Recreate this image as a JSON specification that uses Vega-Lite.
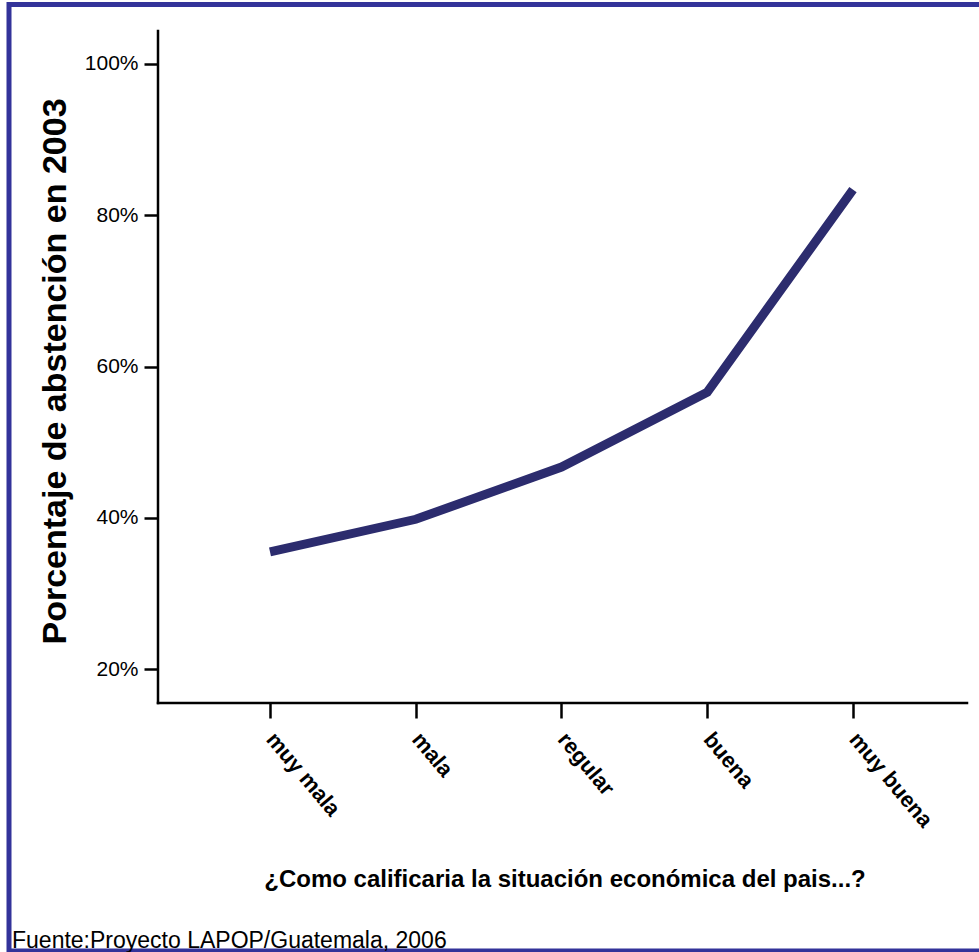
{
  "$schema": "https://vega.github.io/schema/vega-lite/v6.json",
  "width": 970,
  "height": 944,
  "autosize": {"type": "none"},
  "padding": {"left": 9, "top": 5, "right": 0, "bottom": 3},
  "background": "white",
  "config": {"view": {"stroke": null}, "font": "Liberation Sans"},
  "datasets": {
    "abstencion": [
      {"nivel": 1, "situacion": "muy mala", "porcentaje": 0.355},
      {"nivel": 2, "situacion": "mala", "porcentaje": 0.398},
      {"nivel": 3, "situacion": "regular", "porcentaje": 0.467},
      {"nivel": 4, "situacion": "buena", "porcentaje": 0.566},
      {"nivel": 5, "situacion": "muy buena", "porcentaje": 0.834}
    ]
  },
  "resolve": {
    "scale": {"x": "independent", "y": "independent"},
    "axis": {"x": "independent", "y": "independent"}
  },
  "layer": [
    {
      "data": {"values": [{}]},
      "mark": {"type": "rect", "fill": null, "stroke": "#33339a", "strokeWidth": 5},
      "encoding": {
        "x": {"datum": -0.7907, "type": "quantitative", "scale": {"domain": [-0.7907, 5.8645], "nice": false, "zero": false}, "axis": null},
        "x2": {"datum": 5.9057},
        "y": {"datum": 1.0787, "type": "quantitative", "scale": {"domain": [-0.1702, 1.078], "nice": false, "zero": false}, "axis": null},
        "y2": {"datum": -0.1728}
      }
    },
    {
      "data": {"values": [{}]},
      "mark": {"type": "rule", "color": "black", "strokeWidth": 2.5, "strokeCap": "square"},
      "encoding": {
        "x": {"datum": 0.2316, "type": "quantitative", "scale": {"domain": [-0.7907, 5.8645], "nice": false, "zero": false}, "axis": null},
        "y": {"datum": 0.15507, "type": "quantitative", "scale": {"domain": [-0.1702, 1.078], "nice": false, "zero": false}, "axis": null},
        "y2": {"datum": 1.04362}
      }
    },
    {
      "data": {"values": [{}]},
      "mark": {"type": "rule", "color": "black", "strokeWidth": 2.5, "strokeCap": "square"},
      "encoding": {
        "x": {"datum": 0.2316, "type": "quantitative", "scale": {"domain": [-0.7907, 5.8645], "nice": false, "zero": false}, "axis": null},
        "x2": {"datum": 5.7822},
        "y": {"datum": 0.15507, "type": "quantitative", "scale": {"domain": [-0.1702, 1.078], "nice": false, "zero": false}, "axis": null}
      }
    },
    {
      "data": {"values": [{"fuente": "Fuente:Proyecto LAPOP/Guatemala, 2006"}]},
      "mark": {"type": "text", "align": "left", "baseline": "alphabetic", "fontSize": 23, "color": "black", "font": "Liberation Sans"},
      "encoding": {
        "text": {"field": "fuente"},
        "x": {"datum": -0.7701, "type": "quantitative", "scale": {"domain": [-0.7907, 5.8645], "nice": false, "zero": false}, "axis": null},
        "y": {"datum": -0.16888, "type": "quantitative", "scale": {"domain": [-0.1702, 1.078], "nice": false, "zero": false}, "axis": null}
      }
    },
    {
      "data": {"name": "abstencion"},
      "mark": {"type": "line", "color": "#2c2c6e", "strokeWidth": 9, "strokeCap": "butt", "strokeJoin": "miter"},
      "encoding": {
        "x": {
          "field": "nivel",
          "type": "quantitative",
          "scale": {"domain": [-0.7907, 5.8645], "nice": false, "zero": false},
          "axis": {
            "orient": "bottom",
            "offset": -246,
            "values": [1, 2, 3, 4, 5],
            "labelExpr": "datum.value == 1 ? 'muy mala' : datum.value == 2 ? 'mala' : datum.value == 3 ? 'regular' : datum.value == 4 ? 'buena' : 'muy buena'",
            "domain": false,
            "grid": false,
            "ticks": true,
            "tickSize": 15,
            "tickWidth": 2.5,
            "tickColor": "black",
            "labelAngle": 50,
            "labelAlign": "left",
            "labelBaseline": "middle",
            "labelPadding": 17,
            "labelFontSize": 22,
            "labelFontWeight": "bold",
            "labelColor": "black",
            "labelFont": "Liberation Sans",
            "labelFlush": false,
            "labelOverlap": false,
            "title": "¿Como calificaria la situación económica del pais...?",
            "titleFontSize": 24,
            "titleFontWeight": "bold",
            "titleColor": "black",
            "titleFont": "Liberation Sans",
            "titleX": 555.5,
            "titleY": 183,
            "titleBaseline": "alphabetic",
            "titleAlign": "center"
          }
        },
        "y": {
          "field": "porcentaje",
          "type": "quantitative",
          "scale": {"domain": [-0.1702, 1.078], "nice": false, "zero": false},
          "axis": {
            "orient": "left",
            "offset": -149,
            "values": [0.2, 0.4, 0.6, 0.8, 1.0],
            "format": ".0%",
            "domain": false,
            "grid": false,
            "tickSize": 14,
            "tickWidth": 2.5,
            "tickColor": "black",
            "labelFontSize": 21,
            "labelColor": "black",
            "labelFont": "Liberation Sans",
            "labelPadding": 6,
            "labelFlush": false,
            "title": "Porcentaje de abstención en 2003",
            "titleFontSize": 34,
            "titleFontWeight": "bold",
            "titleColor": "black",
            "titleFont": "Liberation Sans",
            "titleX": -93,
            "titleY": 366,
            "titleAngle": -90,
            "titleBaseline": "alphabetic",
            "titleAlign": "center"
          }
        }
      }
    }
  ]
}
